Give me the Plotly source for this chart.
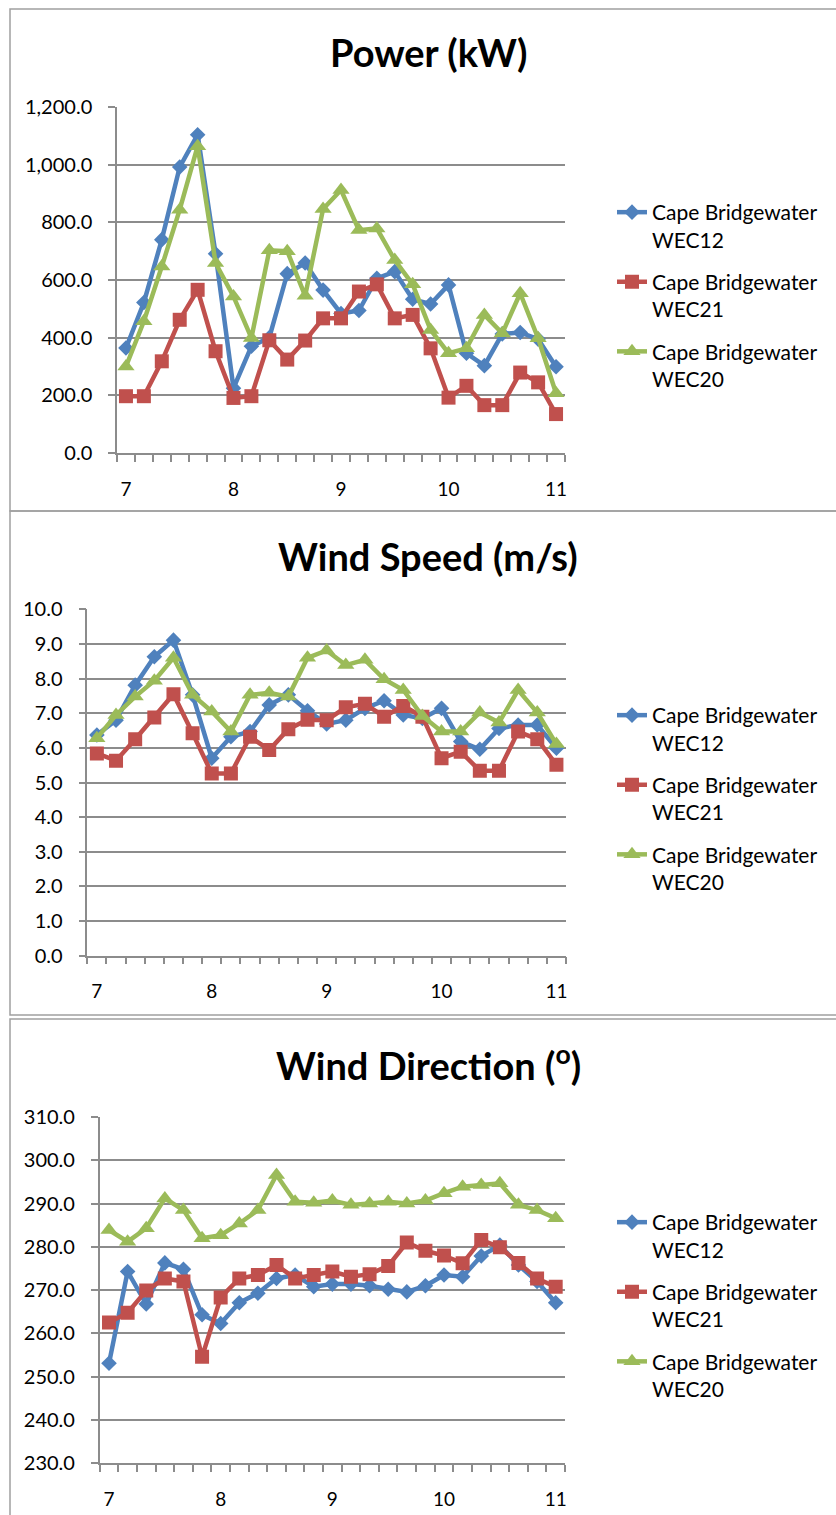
import plotly.graph_objects as go

# ---------------- data ----------------
times = ["7:00", "7:10", "7:20", "7:30", "7:40", "7:50",
         "8:00", "8:10", "8:20", "8:30", "8:40", "8:50",
         "9:00", "9:10", "9:20", "9:30", "9:40", "9:50",
         "10:00", "10:10", "10:20", "10:30", "10:40", "10:50",
         "11:00"]
tick_labels = ["7", "8", "9", "10", "11"]
series_names = ["Cape Bridgewater<br>WEC12", "Cape Bridgewater<br>WEC21", "Cape Bridgewater<br>WEC20"]

power_wec12 = [364, 522, 740, 992, 1104, 691, 225, 370, 400, 622, 659, 565,
               484, 494, 606, 629, 533, 517, 583, 346, 303, 413, 418, 395, 299]
power_wec21 = [197, 197, 318, 462, 566, 353, 191, 197, 391, 324, 390, 467,
               467, 560, 585, 467, 479, 363, 192, 233, 166, 166, 279, 245, 135]
power_wec20 = [300, 457, 647, 844, 1064, 659, 543, 399, 703, 700, 545, 846,
               912, 773, 779, 669, 585, 427, 346, 363, 479, 415, 554, 398, 207]

speed_wec12 = [6.37, 6.80, 7.81, 8.63, 9.11, 7.53, 5.70, 6.32, 6.47, 7.24, 7.53, 7.07,
               6.69, 6.80, 7.14, 7.36, 6.95, 6.85, 7.14, 6.18, 5.96, 6.56, 6.66, 6.66, 5.99]
speed_wec21 = [5.84, 5.63, 6.25, 6.88, 7.55, 6.42, 5.26, 5.26, 6.32, 5.94, 6.54, 6.81,
               6.80, 7.17, 7.27, 6.90, 7.21, 6.90, 5.70, 5.89, 5.34, 5.34, 6.47, 6.25, 5.51]
speed_wec20 = [6.28, 6.95, 7.48, 7.94, 8.60, 7.53, 7.05, 6.47, 7.53, 7.59, 7.48, 8.60,
               8.81, 8.39, 8.54, 7.98, 7.67, 6.92, 6.47, 6.47, 7.02, 6.73, 7.67, 7.02, 6.11]

dir_wec12 = [253.1, 274.3, 266.8, 276.3, 274.8, 264.3, 262.3, 267.1, 269.3, 272.7, 273.5, 270.8,
             271.4, 271.4, 271.0, 270.2, 269.6, 271.0, 273.5, 273.1, 277.9, 280.4, 275.8, 272.0, 267.1]
dir_wec21 = [262.5, 264.8, 269.9, 272.7, 272.0, 254.6, 268.3, 272.7, 273.5, 275.8, 272.7, 273.5,
             274.3, 273.1, 273.7, 275.6, 281.0, 279.1, 278.0, 276.2, 281.6, 279.9, 276.3, 272.7, 270.8]
dir_wec20 = [283.9, 281.2, 284.3, 291.2, 288.5, 282.0, 282.7, 285.4, 288.5, 296.6, 290.4, 290.2,
             290.7, 289.7, 290.0, 290.4, 290.0, 290.7, 292.4, 293.9, 294.3, 294.7, 289.7, 288.5, 286.6]

titles = ["Power (kW)", "Wind Speed (m/s)", "Wind Direction (<sup>o</sup>)"]

# ---------------- layout constants ----------------
W, H = 836, 1515
FONT = "Lato, Carlito, Calibri, sans-serif"
COLORS = ["#4F81BD", "#C0504D", "#9BBB59"]
SYMBOLS = ["diamond", "square", "triangle-up"]
MSIZES = [12, 14, 15]
GRID = "#8c8c8c"

x_hours = [int(t.split(":")[0]) + int(t.split(":")[1]) / 60 for t in times]
step = x_hours[1] - x_hours[0]
x_tickvals = [float(v) for v in tick_labels]


def fx(px):
    return px / W


def fy(py):
    return 1 - py / H


panels = [
    dict(data=[power_wec12, power_wec21, power_wec20], yr=[0, 1200], dt=200, fmt=",.1f",
         xd=(117, 565), yd=(107, 453), frame=(9, 511), title_y=52, leg_top=192),
    dict(data=[speed_wec12, speed_wec21, speed_wec20], yr=[0, 10], dt=1, fmt=".1f",
         xd=(87.3, 566), yd=(609.3, 955.7), frame=(511, 1015), title_y=556, leg_top=695),
    dict(data=[dir_wec12, dir_wec21, dir_wec20], yr=[230, 310], dt=10, fmt=".1f",
         xd=(99.7, 565), yd=(1117, 1463.3), frame=(1019, 1530), title_y=1063, leg_top=1202),
]

fig = go.Figure()
shapes, annotations = [], []
legend_keys = ["legend", "legend2", "legend3"]

for p_i, p in enumerate(panels):
    sfx = "" if p_i == 0 else str(p_i + 1)
    for s_i, vals in enumerate(p["data"]):
        fig.add_trace(go.Scatter(
            x=x_hours, y=vals, name=series_names[s_i],
            mode="lines+markers",
            line=dict(color=COLORS[s_i], width=4.5),
            marker=dict(symbol=SYMBOLS[s_i], size=MSIZES[s_i], color=COLORS[s_i]),
            xaxis="x" + sfx, yaxis="y" + sfx,
            legend=legend_keys[p_i], legendgroup=f"g{p_i}_{s_i}",
        ))
    xa = dict(
        domain=[fx(p["xd"][0]), fx(p["xd"][1])],
        range=[x_hours[0] - step / 2, x_hours[-1] + step / 2],
        tickmode="array", tickvals=x_tickvals, ticktext=tick_labels,
        ticks="", showgrid=False, zeroline=False, automargin=False,
        showline=True, linecolor=GRID, linewidth=1.5,
        tickfont=dict(family=FONT, size=19, color="#000000"),
        ticklabelstandoff=18,
        minor=dict(ticks="outside", tick0=x_hours[0] - step / 2, dtick=step,
                   ticklen=7, tickcolor=GRID, tickwidth=1.5, showgrid=False),
        anchor="y" + sfx, fixedrange=True,
    )
    ya = dict(
        domain=[fy(p["yd"][1]), fy(p["yd"][0])],
        range=p["yr"], dtick=p["dt"], tick0=p["yr"][0], tickformat=p["fmt"],
        showgrid=True, gridcolor=GRID, gridwidth=1.5, zeroline=False, automargin=False,
        showline=True, linecolor=GRID, linewidth=1.5,
        ticks="outside", ticklen=7, tickcolor=GRID, tickwidth=1.5,
        tickfont=dict(family=FONT, size=20, color="#000000"),
        ticklabelstandoff=12,
        anchor="x" + sfx, fixedrange=True,
    )
    fig.update_layout(**{"xaxis" + sfx: xa, "yaxis" + sfx: ya})

    # panel frame
    shapes.append(dict(type="rect", xref="paper", yref="paper",
                       x0=fx(10), x1=fx(860), y0=fy(p["frame"][1]), y1=fy(p["frame"][0]),
                       line=dict(color="#a0a0a0", width=1.5), fillcolor="rgba(0,0,0,0)"))
    # title
    annotations.append(dict(text="<b>" + titles[p_i] + "</b>", xref="paper", yref="paper",
                            x=fx(428), y=fy(p["title_y"]), xanchor="center", yanchor="middle",
                            showarrow=False, font=dict(family=FONT, size=38, color="#000000")))
    # legend
    fig.update_layout(**{legend_keys[p_i]: dict(
        x=fx(612), y=fy(p["leg_top"]), xanchor="left", yanchor="top",
        font=dict(family=FONT, size=21, color="#000000"),
        valign="top", tracegroupgap=12, itemwidth=30,
        bgcolor="rgba(0,0,0,0)", traceorder="grouped",
    )})

fig.update_layout(
    template="none",
    width=W, height=H, margin=dict(l=0, r=0, t=0, b=0, autoexpand=False),
    paper_bgcolor="white", plot_bgcolor="white",
    showlegend=True, shapes=shapes, annotations=annotations,
)

fig.write_html("out.html",
               config={"displayModeBar": False, "staticPlot": False},
               post_script="document.body.style.margin='0px';document.body.style.overflow='hidden';")
